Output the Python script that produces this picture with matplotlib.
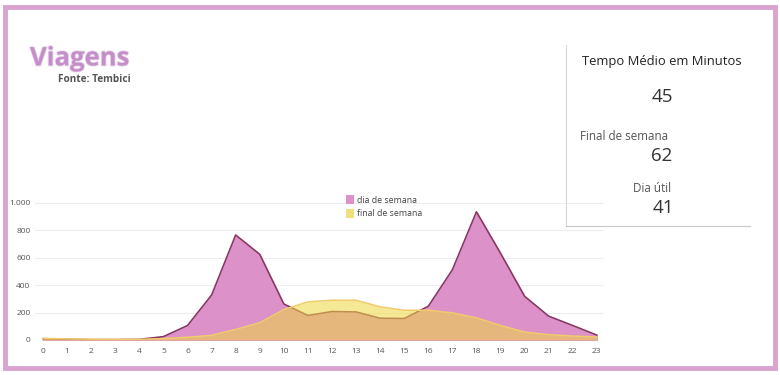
import matplotlib.pyplot as plt
import matplotlib.patheffects as pe
from matplotlib.patches import Rectangle, Patch
from matplotlib.lines import Line2D

plt.rcParams['font.family'] = ['Open Sans', 'DejaVu Sans']

hours = list(range(24))
dia_semana = [10, 5, 3, 3, 5, 25, 106, 328, 766, 625, 263, 179, 208, 205, 159, 157,
              246, 512, 935, 633, 319, 174, 106, 36]
final_semana = [12, 8, 6, 5, 5, 10, 20, 34, 77, 126, 222, 278, 290, 290, 242, 217,
                217, 198, 162, 106, 58, 39, 29, 22]
yticks = [0, 200, 400, 600, 800, 1000]
ytick_labels = ['0', '200', '400', '600', '800', '1.000']

W, H = 780, 375
fig = plt.figure(figsize=(W / 100, H / 100), dpi=100)
fig.patch.set_facecolor('white')

# moldura rosa
fig.patches.append(Rectangle((5 / W, 1 - 368 / H), 770 / W, 361 / H, transform=fig.transFigure,
                             fill=False, edgecolor='#d9a3cf', linewidth=3.5))

ax = fig.add_axes([34.6 / W, 1 - 340 / H, (604 - 34.6) / W, 144 / H])
ax.fill_between(hours, dia_semana, color='#dc91c8', zorder=2)
ax.plot(hours, dia_semana, color='#86365f', lw=1.1, zorder=3)
ax.fill_between(hours, final_semana, color='#efd840', alpha=0.55, lw=0, zorder=4)
ax.plot(hours, final_semana, color='#f0cc6a', lw=1.1, zorder=5)

ax.set_xlim(-0.35, 23.3)
ax.set_ylim(0, 1050)
ax.set_xticks(hours)
ax.set_xticklabels([str(h) for h in hours])
ax.set_yticks(yticks)
ax.set_yticklabels(ytick_labels)
ax.tick_params(axis='x', length=0, labelsize=6, colors='#555555', pad=6)
ax.tick_params(axis='y', length=0, labelsize=6, colors='#555555', pad=3)
ax.grid(axis='y', color='#eeeeee', lw=0.8, zorder=0)
for s in ax.spines.values():
    s.set_visible(False)

handles = [Patch(facecolor='#dc91c8', edgecolor='none'),
           Patch(facecolor='#efe27c', edgecolor='none')]
fig.legend(handles, ['dia de semana', 'final de semana'], loc='upper left',
           bbox_to_anchor=(338 / W, 1 - 187 / H), frameon=False, fontsize=6.3,
           handlelength=0.9, handleheight=1.3, handletextpad=0.4, labelspacing=0.45,
           labelcolor='#444444')

# titulo
fig.text(30 / W, 1 - 58 / H, 'Viagens', fontsize=18.5, fontweight='bold',
         color='#c48ec8', va='center', ha='left',
         path_effects=[pe.withStroke(linewidth=1.2, foreground='#ead8ee')])
fig.text(58 / W, 1 - 80 / H, 'Fonte: Tembici', fontsize=7.2, fontweight='bold',
         color='#555555', va='center', ha='left')

# cartao de tempo medio
fig.add_artist(Line2D([566 / W, 566 / W], [1 - 45 / H, 1 - 226 / H], color='#d8d8d8', lw=0.8))
fig.add_artist(Line2D([566 / W, 750 / W], [1 - 226 / H, 1 - 226 / H], color='#c8c8c8', lw=0.8))
fig.text(662 / W, 1 - 62 / H, 'Tempo Médio em Minutos', fontsize=9.4, color='#222222',
         ha='center', va='center')
fig.text(662 / W, 1 - 97 / H, '45', fontsize=13.5, color='#333333', ha='center', va='center')
fig.text(580 / W, 1 - 137 / H, 'Final de semana', fontsize=8.4, color='#555555',
         ha='left', va='center')
fig.text(662 / W, 1 - 156 / H, '62', fontsize=13.5, color='#333333', ha='center', va='center')
fig.text(671 / W, 1 - 188 / H, 'Dia útil', fontsize=8.4, color='#555555', ha='right', va='center')
fig.text(663 / W, 1 - 208 / H, '41', fontsize=13.5, color='#333333', ha='center', va='center')

fig.savefig('out.png', dpi=100)
